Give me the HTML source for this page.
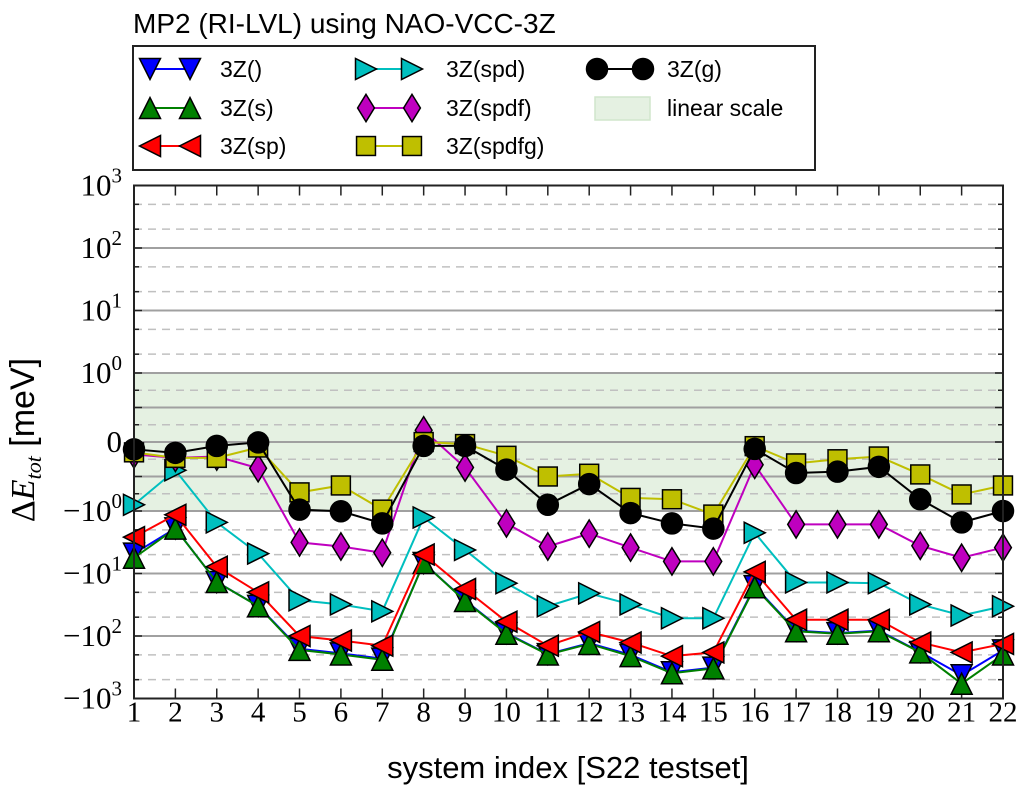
<!DOCTYPE html>
<html><head><meta charset="utf-8"><style>
body{margin:0;background:#fff;width:1020px;height:787px;overflow:hidden}
svg{display:block}
</style></head><body>
<svg id="chart" width="1020" height="787" xmlns="http://www.w3.org/2000/svg">
<text x="133" y="33" font-family="Liberation Sans, sans-serif" font-size="28">MP2 (RI-LVL) using NAO-VCC-3Z</text>
<g id="plot"></g>
<g id="legend"></g>
<text x="568" y="778" text-anchor="middle" font-family="Liberation Sans, sans-serif" font-size="31">system index [S22 testset]</text>
<text transform="translate(34,440) rotate(-90)" text-anchor="middle" font-size="34"><tspan font-family="Liberation Serif, serif">Δ</tspan><tspan font-family="Liberation Serif, serif" font-style="italic">E</tspan><tspan font-family="Liberation Serif, serif" font-style="italic" font-size="22" dy="7">tot</tspan><tspan font-family="Liberation Sans, sans-serif" dy="-7"> [meV]</tspan></text>
</svg>
<script>
const categories = [1,2,3,4,5,6,7,8,9,10,11,12,13,14,15,16,17,18,19,20,21,22];
const s_none  = [-4.8,-1.9,-13.7,-33,-160,-190,-230,-6.8,-27,-90,-195,-130,-200,-380,-320,-16,-82,-90,-82,-180,-424,-170];
const s_s     = [-5.6,-1.91,-13.7,-33.4,-167,-198,-240,-6.8,-27.5,-92,-198,-134,-210,-395,-330,-16.6,-84,-92,-84,-183,-580,-198];
const s_sp    = [-2.62,-1.15,-7.8,-20,-100,-118,-143,-4.97,-17.7,-59,-143,-86,-127,-210,-183,-9.4,-55,-55,-55,-127,-183,-134];
const s_spd   = [-0.91,-0.41,-1.52,-4.8,-26.8,-31.3,-40.3,-1.27,-4.2,-14.3,-33.4,-20.8,-31.3,-52,-52,-2.23,-13.9,-13.9,-14.3,-31.3,-47,-33.4];
const s_spdf  = [-0.18,-0.23,-0.21,-0.38,-3.18,-3.7,-4.66,0.17,-0.37,-1.58,-3.7,-2.3,-3.85,-6.4,-6.4,-0.33,-1.64,-1.64,-1.64,-3.6,-5.6,-3.85];
const s_spdfg = [-0.15,-0.23,-0.23,-0.08,-0.73,-0.63,-0.98,0.0,-0.03,-0.2,-0.5,-0.46,-0.81,-0.83,-1.14,-0.06,-0.31,-0.25,-0.21,-0.47,-0.76,-0.63];
const s_g     = [-0.106,-0.157,-0.056,-0.006,-0.98,-1.01,-1.58,-0.056,-0.056,-0.4,-0.91,-0.61,-1.08,-1.58,-1.91,-0.1,-0.45,-0.43,-0.36,-0.83,-1.52,-1.0];
const majorTicks = [1000,100,10,1,0,-1,-10,-100,-1000];
const majorLabels = ["10^3","10^2","10^1","10^0","0","-10^0","-10^1","-10^2","-10^3"];

const NS="http://www.w3.org/2000/svg";
const L=134,R=1003,T=185.5,B=698.5, Y0=442, LIN=69, DEC=62.5;
function xs(i){return L+(i-1)*(R-L)/21;}
function ys(v){ if(Math.abs(v)<=1) return Y0-v*LIN; const s=v>0?1:-1; return Y0-s*(LIN+DEC*Math.log10(Math.abs(v)));}
function mk(tag,attrs,parent){const e=document.createElementNS(NS,tag);for(const k in attrs)e.setAttribute(k,attrs[k]);(parent||plot).appendChild(e);return e;}
const plot=document.getElementById('plot');
const legend=document.getElementById('legend');

const band=mk('rect',{x:L,y:ys(1),width:R-L,height:ys(-1)-ys(1),fill:'#e5f1e2'});


const solid=[100,10,1,0.5,0,-0.5,-1,-10,-100];
const dashed=[500,200,50,20,5,2,0.75,0.25,-0.25,-0.75,-2,-5,-20,-50,-200,-500];
solid.forEach(v=>{const g=mk('line',{x1:L,x2:R,y1:ys(v),y2:ys(v),stroke:'#a0a0a0','stroke-width':2});

});
dashed.forEach(v=>{const g=mk('line',{x1:L,x2:R,y1:ys(v),y2:ys(v),stroke:'#c0c0c0','stroke-width':1.5,'stroke-dasharray':'8,6'});

});
solid.concat(dashed).concat([1000,-1000]).forEach(v=>{
 const big=majorTicks.includes(v)||Math.abs(v)===0.5;const len=big?8:5;
 mk('line',{x1:L,x2:L+len,y1:ys(v),y2:ys(v),stroke:'#222','stroke-width':1.5});
 mk('line',{x1:R,x2:R-len,y1:ys(v),y2:ys(v),stroke:'#222','stroke-width':1.5});
});
categories.forEach(c=>{
 mk('line',{x1:xs(c),x2:xs(c),y1:T,y2:T+10,stroke:'#222','stroke-width':1.5});
 mk('line',{x1:xs(c),x2:xs(c),y1:B,y2:B-10,stroke:'#222','stroke-width':1.5});
 const t=mk('text',{x:xs(c),y:B+23,'text-anchor':'middle','font-family':'Liberation Serif, serif','font-size':29});
 t.textContent=c;
 
 
});
majorTicks.forEach((v,k)=>{
 const lab=majorLabels[k];
 const t=mk('text',{x:122,y:ys(v)+10,'text-anchor':'end','font-family':'Liberation Serif, serif','font-size':31});
 
 
 if(lab.includes('^')){const [b,e]=lab.split('^');
  const t1=document.createElementNS(NS,'tspan');t1.textContent=b.replace('-','−');t.appendChild(t1);
  const t2=document.createElementNS(NS,'tspan');t2.setAttribute('dy','-13');t2.setAttribute('font-size','21');t2.textContent=e;t.appendChild(t2);
 } else t.textContent=lab;
});

function marker(type,x,y,fill,parent,sz){
 const s=sz||10; let e;
 const st={fill:fill,stroke:'#000','stroke-width':1.5};
 if(type==='v') e=mk('polygon',Object.assign({points:`${x-s},${y-s} ${x+s},${y-s} ${x},${y+s}`},st),parent);
 else if(type==='^') e=mk('polygon',Object.assign({points:`${x-s},${y+s} ${x+s},${y+s} ${x},${y-s}`},st),parent);
 else if(type==='<') e=mk('polygon',Object.assign({points:`${x+s},${y-s} ${x+s},${y+s} ${x-s},${y}`},st),parent);
 else if(type==='>') e=mk('polygon',Object.assign({points:`${x-s},${y-s} ${x-s},${y+s} ${x+s},${y}`},st),parent);
 else if(type==='d') e=mk('polygon',Object.assign({points:`${x},${y-s*1.3} ${x+s*0.8},${y} ${x},${y+s*1.3} ${x-s*0.8},${y}`},st),parent);
 else if(type==='s') e=mk('rect',Object.assign({x:x-s*0.9,y:y-s*0.9,width:s*1.8,height:s*1.8},st),parent);
 else e=mk('circle',Object.assign({cx:x,cy:y,r:s},st),parent);
 return e;
}
const series=[
 {name:'3Z()',d:s_none,c:'#0000ff',m:'v'},
 {name:'3Z(s)',d:s_s,c:'#008000',m:'^'},
 {name:'3Z(sp)',d:s_sp,c:'#ff0000',m:'<'},
 {name:'3Z(spd)',d:s_spd,c:'#00bfbf',m:'>'},
 {name:'3Z(spdf)',d:s_spdf,c:'#bf00bf',m:'d'},
 {name:'3Z(spdfg)',d:s_spdfg,c:'#bfbf00',m:'s'},
 {name:'3Z(g)',d:s_g,c:'#000000',m:'o'}
];
series.forEach(S=>{
 const g=mk('g',{});
 
 
 const pts=S.d.map((v,i)=>xs(categories[i])+','+ys(v)).join(' ');
 mk('polyline',{points:pts,fill:'none',stroke:S.c,'stroke-width':2},g);
 S.d.forEach((v,i)=>{const e=marker(S.m,xs(categories[i]),ys(v),S.c,g,10.5);
  
  });
});
mk('rect',{x:L,y:T,width:R-L,height:B-T,fill:'none',stroke:'#222','stroke-width':2});

mk('rect',{x:133,y:46,width:682,height:124,fill:'#fff',stroke:'#222','stroke-width':2},legend);
const cols=[[150,190,220],[366,412,446],[597,643,667]];
const pos=[[0,0],[0,1],[0,2],[1,0],[1,1],[1,2],[2,0]];
const rowsY=[69,108,146];
series.forEach((S,k)=>{
 const [ci,ri]=pos[k];const [x1,x2,tx]=cols[ci];const y=rowsY[ri];
 const g=mk('g',{},legend);
 
 
 mk('line',{x1:x1,x2:x2,y1:y,y2:y,stroke:S.c,'stroke-width':2},g);
 marker(S.m,x1,y,S.c,g,10.5);marker(S.m,x2,y,S.c,g,10.5);
 const t=mk('text',{x:tx,y:y+8,'font-family':'Liberation Sans, sans-serif','font-size':23},g);t.textContent=S.name;
});
const lg=mk('g',{},legend);


mk('rect',{x:595,y:97,width:55,height:23,fill:'#e5f1e2',stroke:'#d0e6cc','stroke-width':1.5},lg);
const lt=mk('text',{x:667,y:116,'font-family':'Liberation Sans, sans-serif','font-size':23},lg);lt.textContent='linear scale';
</script>
</body></html>
